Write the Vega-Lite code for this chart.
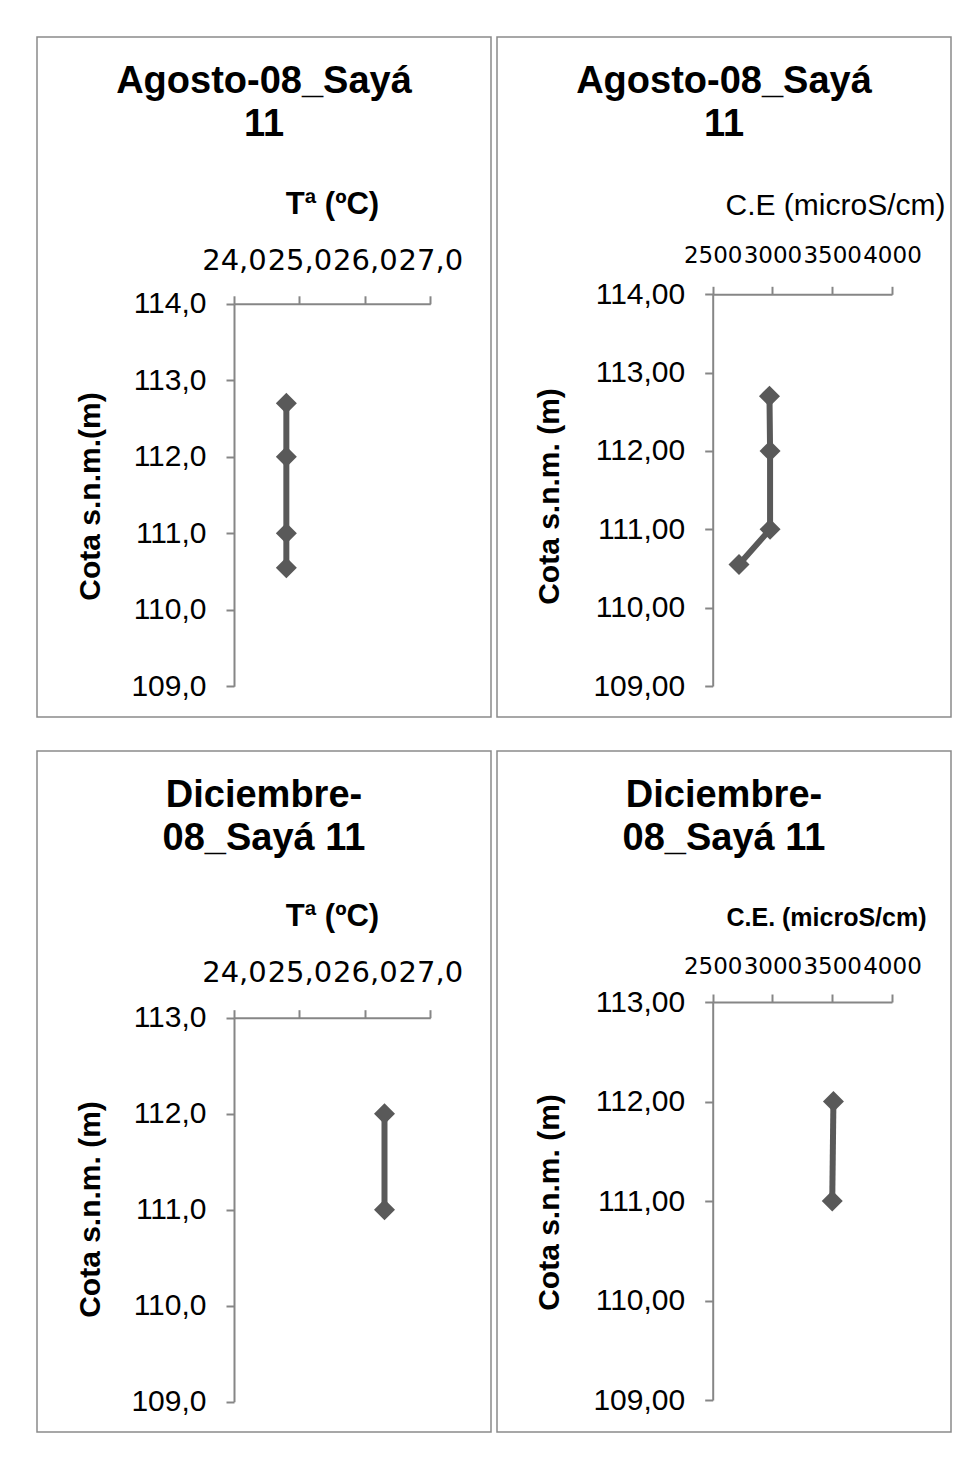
{
  "$schema": "https://vega.github.io/schema/vega-lite/v6.json",
  "background": "white",
  "padding": {"left": 36, "top": 36, "right": 0, "bottom": 0},
  "config": {
    "font": "Liberation Sans",
    "view": {"stroke": "#8a8a8a", "strokeWidth": 1.5},
    "axis": {
      "grid": false,
      "domainColor": "#868686",
      "tickColor": "#868686",
      "domainWidth": 2,
      "tickWidth": 2,
      "tickSize": 8,
      "labelColor": "black",
      "titleColor": "black",
      "labelFlush": false,
      "labelOverlap": false,
      "labelFont": "Liberation Sans",
      "titleFont": "Liberation Sans"
    },
    "title": {"color": "black", "font": "Liberation Sans"}
  },
  "data": {
    "values": [
      {"panel": "p1", "x": 24.8, "y": 112.7},
      {"panel": "p1", "x": 24.8, "y": 112.0},
      {"panel": "p1", "x": 24.8, "y": 111.0},
      {"panel": "p1", "x": 24.8, "y": 110.55},
      {"panel": "p2", "x": 2975, "y": 112.7},
      {"panel": "p2", "x": 2980, "y": 112.0},
      {"panel": "p2", "x": 2980, "y": 111.0},
      {"panel": "p2", "x": 2720, "y": 110.55},
      {"panel": "p3", "x": 26.3, "y": 112.0},
      {"panel": "p3", "x": 26.3, "y": 111.0},
      {"panel": "p4", "x": 3510, "y": 112.0},
      {"panel": "p4", "x": 3500, "y": 111.0}
    ]
  },
  "spacing": 32,
  "vconcat": [
    {
      "spacing": 4,
      "hconcat": [
        {
          "width": 454,
          "height": 680,
          "title": {"text": ["Agosto-08_Sayá", "11"], "fontSize": 38, "fontWeight": "bold", "anchor": "middle", "frame": "group", "offset": -137, "baseline": "alphabetic", "lineHeight": 43},
          "transform": [{"filter": "datum.panel == 'p1'"}],
          "encoding": {
            "x": {"field": "x", "type": "quantitative",
              "scale": {"domain": [24, 27], "range": [197, 393.3], "nice": false, "zero": false},
              "axis": {"orient": "top", "offset": -266.8, "values": [24, 25, 26, 27],
                "labelExpr": "replace(format(datum.value, '.1f'), '.', ',')",
                "labelFont": "DejaVu Sans", "labelFontSize": 29, "labelPadding": 20,
                "title": "Tª (ºC)", "titleFontSize": 31, "titleFontWeight": "bold",
                "titleX": 295, "titleY": -90, "titleAlign": "center", "titleBaseline": "alphabetic"}},
            "y": {"field": "y", "type": "quantitative",
              "scale": {"domain": [109, 114], "range": [649.3, 266.8], "nice": false, "zero": false},
              "axis": {"orient": "left", "offset": -197, "values": [109, 110, 111, 112, 113, 114],
                "labelExpr": "replace(format(datum.value, '.1f'), '.', ',')",
                "labelFontSize": 30, "labelPadding": 20,
                "title": "Cota s.n.m.(m)", "titleFontSize": 30, "titleFontWeight": "bold",
                "titleX": -135, "titleY": 459, "titleAngle": 270, "titleAlign": "center", "titleBaseline": "alphabetic"}}
          },
          "layer": [
            {"mark": {"type": "line", "color": "#595959", "strokeWidth": 6}, "encoding": {"order": {"field": "y"}}},
            {"mark": {"type": "point", "shape": "diamond", "filled": true, "size": 441, "color": "#595959", "opacity": 1}}
          ]
        },
        {
          "width": 454,
          "height": 680,
          "title": {"text": ["Agosto-08_Sayá", "11"], "fontSize": 38, "fontWeight": "bold", "anchor": "middle", "frame": "group", "offset": -137, "baseline": "alphabetic", "lineHeight": 43},
          "transform": [{"filter": "datum.panel == 'p2'"}],
          "encoding": {
            "x": {"field": "x", "type": "quantitative",
              "scale": {"domain": [2500, 4000], "range": [215.7, 395], "nice": false, "zero": false},
              "axis": {"orient": "top", "offset": -257.3, "values": [2500, 3000, 3500, 4000],
                "format": "d", "labelFont": "DejaVu Sans",
                "labelFontSize": 23, "labelPadding": 19,
                "title": "C.E (microS/cm)", "titleFontSize": 30, "titleFontWeight": "normal",
                "titleX": 338, "titleY": -80, "titleAlign": "center", "titleBaseline": "alphabetic"}},
            "y": {"field": "y", "type": "quantitative",
              "scale": {"domain": [109, 114], "range": [649, 257.3], "nice": false, "zero": false},
              "axis": {"orient": "left", "offset": -215.7, "values": [109, 110, 111, 112, 113, 114],
                "labelExpr": "replace(format(datum.value, '.2f'), '.', ',')",
                "labelFontSize": 30, "labelPadding": 20,
                "title": "Cota s.n.m. (m)", "titleFontSize": 30, "titleFontWeight": "bold",
                "titleX": -154, "titleY": 459, "titleAngle": 270, "titleAlign": "center", "titleBaseline": "alphabetic"}}
          },
          "layer": [
            {"mark": {"type": "line", "color": "#595959", "strokeWidth": 6}, "encoding": {"order": {"field": "y"}}},
            {"mark": {"type": "point", "shape": "diamond", "filled": true, "size": 441, "color": "#595959", "opacity": 1}}
          ]
        }
      ]
    },
    {
      "spacing": 4,
      "hconcat": [
        {
          "width": 454,
          "height": 681,
          "title": {"text": ["Diciembre-", "08_Sayá 11"], "fontSize": 38, "fontWeight": "bold", "anchor": "middle", "frame": "group", "offset": -137, "baseline": "alphabetic", "lineHeight": 43},
          "transform": [{"filter": "datum.panel == 'p3'"}],
          "encoding": {
            "x": {"field": "x", "type": "quantitative",
              "scale": {"domain": [24, 27], "range": [197, 393.3], "nice": false, "zero": false},
              "axis": {"orient": "top", "offset": -266.7, "values": [24, 25, 26, 27],
                "labelExpr": "replace(format(datum.value, '.1f'), '.', ',')",
                "labelFont": "DejaVu Sans", "labelFontSize": 29, "labelPadding": 22,
                "title": "Tª (ºC)", "titleFontSize": 31, "titleFontWeight": "bold",
                "titleX": 295, "titleY": -92, "titleAlign": "center", "titleBaseline": "alphabetic"}},
            "y": {"field": "y", "type": "quantitative",
              "scale": {"domain": [109, 113], "range": [650.7, 266.7], "nice": false, "zero": false},
              "axis": {"orient": "left", "offset": -197, "values": [109, 110, 111, 112, 113],
                "labelExpr": "replace(format(datum.value, '.1f'), '.', ',')",
                "labelFontSize": 30, "labelPadding": 20,
                "title": "Cota s.n.m. (m)", "titleFontSize": 30, "titleFontWeight": "bold",
                "titleX": -135, "titleY": 458, "titleAngle": 270, "titleAlign": "center", "titleBaseline": "alphabetic"}}
          },
          "layer": [
            {"mark": {"type": "line", "color": "#595959", "strokeWidth": 6}, "encoding": {"order": {"field": "y"}}},
            {"mark": {"type": "point", "shape": "diamond", "filled": true, "size": 441, "color": "#595959", "opacity": 1}}
          ]
        },
        {
          "width": 454,
          "height": 681,
          "title": {"text": ["Diciembre-", "08_Sayá 11"], "fontSize": 38, "fontWeight": "bold", "anchor": "middle", "frame": "group", "offset": -137, "baseline": "alphabetic", "lineHeight": 43},
          "transform": [{"filter": "datum.panel == 'p4'"}],
          "encoding": {
            "x": {"field": "x", "type": "quantitative",
              "scale": {"domain": [2500, 4000], "range": [215.7, 395], "nice": false, "zero": false},
              "axis": {"orient": "top", "offset": -251, "values": [2500, 3000, 3500, 4000],
                "format": "d", "labelFont": "DejaVu Sans",
                "labelFontSize": 23, "labelPadding": 16,
                "title": "C.E. (microS/cm)", "titleFontSize": 25, "titleFontWeight": "bold",
                "titleX": 329, "titleY": -77, "titleAlign": "center", "titleBaseline": "alphabetic"}},
            "y": {"field": "y", "type": "quantitative",
              "scale": {"domain": [109, 113], "range": [649, 251], "nice": false, "zero": false},
              "axis": {"orient": "left", "offset": -215.7, "values": [109, 110, 111, 112, 113],
                "labelExpr": "replace(format(datum.value, '.2f'), '.', ',')",
                "labelFontSize": 30, "labelPadding": 20,
                "title": "Cota s.n.m. (m)", "titleFontSize": 30, "titleFontWeight": "bold",
                "titleX": -154, "titleY": 451, "titleAngle": 270, "titleAlign": "center", "titleBaseline": "alphabetic"}}
          },
          "layer": [
            {"mark": {"type": "line", "color": "#595959", "strokeWidth": 6}, "encoding": {"order": {"field": "y"}}},
            {"mark": {"type": "point", "shape": "diamond", "filled": true, "size": 441, "color": "#595959", "opacity": 1}}
          ]
        }
      ]
    }
  ]
}
